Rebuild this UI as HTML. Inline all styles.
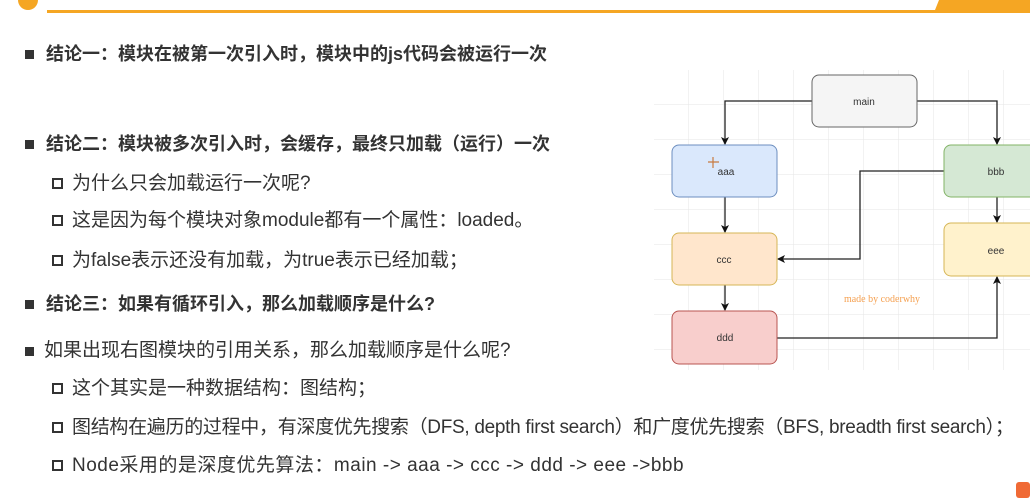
<!DOCTYPE html>
<html><head><meta charset="utf-8"><style>
body{margin:0;width:1030px;height:498px;background:#fff;overflow:hidden;position:relative;font-family:"Liberation Sans","Noto Sans CJK SC",sans-serif;color:#333}
.t{position:absolute;white-space:nowrap;font-size:19px;line-height:20px}
.b{font-weight:bold;font-size:18px}
.sq{position:absolute;width:9px;height:9px;background:#333}
.hs{position:absolute;width:7px;height:7px;border:2px solid #333;box-sizing:content-box}
</style></head><body>
<div style="position:absolute;left:47px;top:10px;width:1000px;height:3px;background:#f5a623"></div>
<div style="position:absolute;left:18px;top:-10px;width:20px;height:20px;border-radius:50%;background:#f5a623"></div>
<div style="position:absolute;left:935px;top:0;width:100px;height:10px;background:#f5a623;clip-path:polygon(4% 0,100% 0,100% 100%,0 100%)"></div>

<div class="sq" style="left:25px;top:50px"></div><div class="t b" style="left:46px;top:44px">结论一：模块在被第一次引入时，模块中的js代码会被运行一次</div>
<div class="sq" style="left:25px;top:140px"></div><div class="t b" style="left:46px;top:134px">结论二：模块被多次引入时，会缓存，最终只加载（运行）一次</div>
<div class="hs" style="left:52px;top:178px"></div><div class="t" style="left:72px;top:174px">为什么只会加载运行一次呢?</div>
<div class="hs" style="left:52px;top:215px"></div><div class="t" style="left:72px;top:211px">这是因为每个模块对象module都有一个属性：loaded。</div>
<div class="hs" style="left:52px;top:255px"></div><div class="t" style="left:72px;top:251px">为false表示还没有加载，为true表示已经加载；</div>
<div class="sq" style="left:25px;top:300px"></div><div class="t b" style="left:46px;top:294px">结论三：如果有循环引入，那么加载顺序是什么?</div>
<div class="sq" style="left:25px;top:347px"></div><div class="t" style="left:44px;top:341px">如果出现右图模块的引用关系，那么加载顺序是什么呢?</div>
<div class="hs" style="left:52px;top:383px"></div><div class="t" style="left:72px;top:379px">这个其实是一种数据结构：图结构；</div>
<div class="hs" style="left:52px;top:422px"></div><div class="t" style="left:72px;top:418px;letter-spacing:-0.3px">图结构在遍历的过程中，有深度优先搜索（DFS, depth first search）和广度优先搜索（BFS, breadth first search）；</div>
<div class="hs" style="left:52px;top:460px"></div><div class="t" style="left:72px;top:456px;letter-spacing:0.5px">Node采用的是深度优先算法：main -&gt; aaa -&gt; ccc -&gt; ddd -&gt; eee -&gt;bbb</div>
<div style="position:absolute;left:1016px;top:482px;width:14px;height:16px;background:#f06a35;border-radius:3px"></div>

<svg style="position:absolute;left:0;top:0" width="1030" height="498">
<defs>
<pattern id="g" x="654" y="70" width="35" height="35" patternUnits="userSpaceOnUse"><path d="M35 0V35M0 35H35" stroke="#e6e6e6" fill="none"/></pattern>
<marker id="a" markerWidth="8" markerHeight="8" refX="7" refY="4" orient="auto" markerUnits="userSpaceOnUse"><path d="M0 0L8 4L0 8L2 4z" fill="#111"/></marker>
</defs>
<rect x="654" y="70" width="376" height="300" fill="url(#g)"/>
<g stroke="#222" stroke-width="1.3" fill="none" marker-end="url(#a)">
<path d="M812 101H725V144"/>
<path d="M917 101H997V144"/>
<path d="M725 197V232"/>
<path d="M725 285V310"/>
<path d="M944 171H860V259H778"/>
<path d="M997 197V222"/>
<path d="M777 338H997V277"/>
</g>
<g font-family="Liberation Sans,sans-serif" font-size="10" text-anchor="middle" fill="#333">
<rect x="812" y="75" width="105" height="52" rx="7" fill="#f5f5f5" stroke="#666"/><text x="864" y="105">main</text>
<rect x="672" y="145" width="105" height="52" rx="7" fill="#dae8fc" stroke="#6c8ebf"/><text x="726" y="175">aaa</text>
<rect x="944" y="145" width="100" height="52" rx="7" fill="#d5e8d4" stroke="#82b366"/><text x="996" y="175">bbb</text>
<rect x="672" y="233" width="105" height="52" rx="7" fill="#ffe6cc" stroke="#d6b656"/><text x="724" y="263">ccc</text>
<rect x="944" y="223" width="100" height="53" rx="7" fill="#fff2cc" stroke="#d6b656"/><text x="996" y="254">eee</text>
<rect x="672" y="311" width="105" height="53" rx="7" fill="#f8cecc" stroke="#b85450"/><text x="725" y="341">ddd</text>
<text x="882" y="302" font-family="Liberation Serif,serif" font-size="10" fill="#f5a050">made by coderwhy</text>
</g>
<path d="M713 157V168M708 162H719" stroke="#c87a40" stroke-width="1.2"/>
</svg>
</body></html>
